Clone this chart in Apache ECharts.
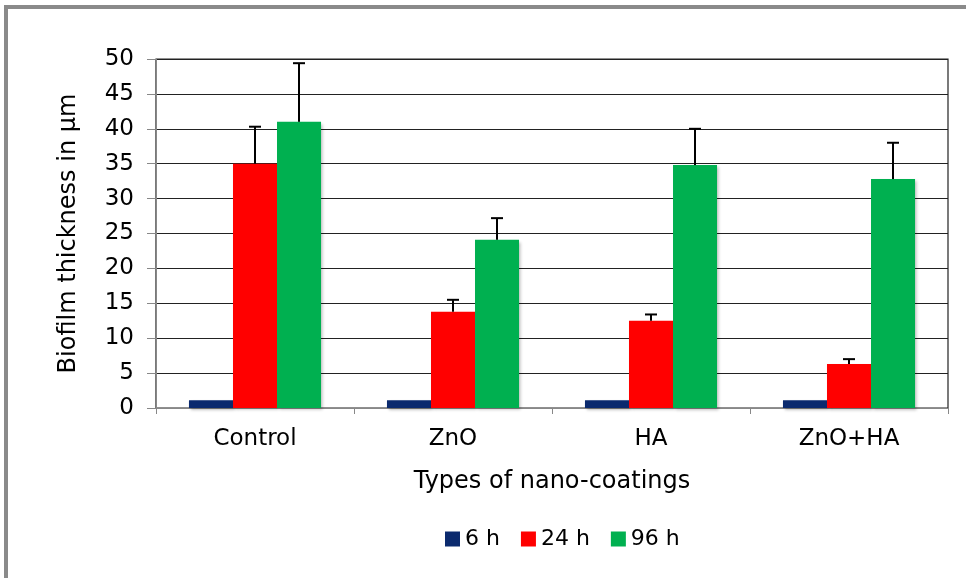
<!DOCTYPE html>
<html>
<head>
<meta charset="utf-8">
<script src="https://cdn.jsdelivr.net/npm/echarts@6/dist/echarts.min.js"></script>
<style>
  html, body { margin: 0; padding: 0; background: #fff; }
  #chart { width: 966px; height: 578px; }
</style>
</head>
<body>
<div id="chart"></div>
<script>
// Biofilm thickness (µm) per coating and incubation time, with upper error bars
var categories = ['Control', 'ZnO', 'HA', 'ZnO+HA'];
var seriesNames = ['6 h', '24 h', '96 h'];
var values6h = [1.1, 1.1, 1.1, 1.1];
var values24h = [35.0, 13.8, 12.5, 6.3];
var values96h = [41.0, 24.1, 34.8, 32.8];
var errTop24h = [40.3, 15.5, 13.4, 7.0];
var errTop96h = [49.4, 27.2, 40.0, 38.0];
var yTicks = { min: 0, max: 50, step: 5 };

var colors = ['#0B2A6E', '#FF0000', '#00B050'];
var font = 'DejaVu Sans, Verdana, sans-serif';

var chart = echarts.init(document.getElementById('chart'));

var barShadow = {
  shadowColor: 'rgba(0,0,0,0.25)',
  shadowBlur: 3,
  shadowOffsetX: 2,
  shadowOffsetY: 2
};

function barSeries(name, data, color) {
  return {
    name: name,
    type: 'bar',
    data: data,
    barGap: '0%',
    barCategoryGap: '33.3%',
    itemStyle: Object.assign({ color: color }, barShadow),
    emphasis: { disabled: true },
    z: 2
  };
}

// Error bar drawn from the bar top up to the upper limit, with a cap
function errorSeries(barIndex, tops, means) {
  var data = tops.map(function (t, i) { return [i, means[i], t]; });
  return {
    type: 'custom',
    data: data,
    z: 5,
    silent: true,
    renderItem: function (params, api) {
      var ci = api.value(0);
      var base = api.coord([ci, api.value(1)]);
      var top = api.coord([ci, api.value(2)]);
      var bandW = api.size([1, 0])[0];
      var groupW = bandW * (1 - 0.333);
      var barW = groupW / 3;
      var x = base[0] - groupW / 2 + barW * (barIndex + 0.5);
      var capHalf = 6;
      var style = { stroke: '#000', lineWidth: 2 };
      return {
        type: 'group',
        children: [
          { type: 'line', shape: { x1: x, y1: base[1], x2: x, y2: top[1] }, style: style },
          { type: 'line', shape: { x1: x - capHalf, y1: top[1], x2: x + capHalf, y2: top[1] }, style: style }
        ]
      };
    }
  };
}

chart.setOption({
  animation: false,
  backgroundColor: '#fff',
  textStyle: { fontFamily: font },
  graphic: [{
    type: 'rect',
    shape: { x: 6, y: 7, width: 980, height: 600 },
    style: { fill: 'none', stroke: '#8a8a8a', lineWidth: 4 },
    silent: true
  }],
  grid: {
    left: 156, right: 18, top: 59, bottom: 170,
    show: true, borderColor: '#222', borderWidth: 1.2, backgroundColor: 'transparent'
  },
  legend: {
    data: seriesNames,
    top: 523,
    left: 440,
    itemWidth: 15,
    itemHeight: 15,
    itemGap: 21,
    icon: 'rect',
    textStyle: { fontSize: 22, color: '#000', fontFamily: font }
  },
  xAxis: {
    type: 'category',
    data: categories,
    name: 'Types of nano-coatings',
    nameLocation: 'middle',
    nameGap: 62,
    nameTextStyle: { fontSize: 24, color: '#000', fontFamily: font },
    axisLine: { lineStyle: { color: '#888', width: 1 } },
    axisTick: { show: true, length: 6, lineStyle: { color: '#888' } },
    axisLabel: { fontSize: 23, color: '#000', margin: 20, fontFamily: font },
    splitLine: { show: false }
  },
  yAxis: {
    type: 'value',
    min: yTicks.min,
    max: yTicks.max,
    interval: yTicks.step,
    name: 'Biofilm thickness in µm',
    nameLocation: 'middle',
    nameGap: 75,
    nameTextStyle: { fontSize: 24, color: '#000', fontFamily: font },
    axisLine: { show: true, lineStyle: { color: '#888', width: 1 } },
    axisTick: { show: true, length: 9, lineStyle: { color: '#888' } },
    axisLabel: { fontSize: 23, color: '#000', margin: 22, fontFamily: font },
    splitLine: { show: true, lineStyle: { color: '#222', width: 1.2 } }
  },
  series: [
    barSeries(seriesNames[0], values6h, colors[0]),
    barSeries(seriesNames[1], values24h, colors[1]),
    barSeries(seriesNames[2], values96h, colors[2]),
    errorSeries(1, errTop24h, values24h),
    errorSeries(2, errTop96h, values96h)
  ]
});
</script>
</body>
</html>
